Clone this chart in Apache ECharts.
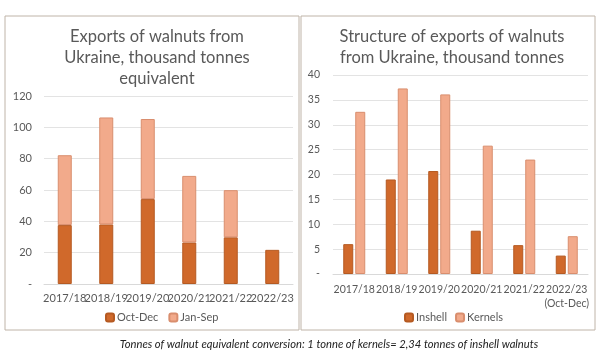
<!DOCTYPE html>
<html><head><meta charset="utf-8">
<script src="https://cdn.jsdelivr.net/npm/echarts@6/dist/echarts.min.js"></script>
<style>html,body{margin:0;padding:0;background:#fff}#c{width:600px;height:360px}</style>
</head><body><div id="c"></div>
<script>
const leftCategories = ['2017/18','2018/19','2019/20','2020/21','2021/22','2022/23'];
const octDec = [37.6, 38.0, 54.2, 26.5, 29.8, 21.8];
const janSep = [44.6, 68.3, 51.1, 42.5, 30.1, null];
const rightCategories = ['2017/18','2018/19','2019/20','2020/21','2021/22','2022/23\n(Oct-Dec)'];
const inshell = [6.0, 19.0, 20.7, 8.7, 5.8, 3.7];
const kernels = [32.6, 37.3, 36.1, 25.8, 23.0, 7.6];
const leftTitle = 'Exports of walnuts from\nUkraine, thousand tonnes\nequivalent';
const rightTitle = 'Structure of exports of walnuts\nfrom Ukraine, thousand tonnes';
const footnote = 'Tonnes of walnut equivalent conversion: 1 tonne of kernels= 2,34 tonnes of inshell walnuts';

const DARK = '#D0692B', DARKB = '#B55A22', LIGHT = '#F2AA8B', LIGHTB = '#D98E6E';
const FONT = 'Lato';
const chart = echarts.init(document.getElementById('c'));
const axisLbl = {color:'#595959', fontFamily:FONT, fontSize:11};
chart.setOption({
  animation:false,
  textStyle:{fontFamily:FONT},
  title:[
    {text:leftTitle, left:152, top:21, textAlign:'center', textStyle:{fontFamily:FONT, fontWeight:'normal', fontSize:16.5, color:'#595959', lineHeight:21}},
    {text:rightTitle, left:447, top:21, textAlign:'center', textStyle:{fontFamily:FONT, fontWeight:'normal', fontSize:16.5, color:'#595959', lineHeight:21}},
    {text:footnote, left:324, top:334, textAlign:'center', textStyle:{fontFamily:FONT, fontWeight:'normal', fontStyle:'italic', fontSize:11.2, color:'#222'}}
  ],
  graphic:[
    {type:'rect', shape:{x:5, y:16, width:294, height:314}, style:{fill:'none', stroke:'#BFB4A8', lineWidth:1}, z:-1},
    {type:'rect', shape:{x:301, y:16, width:294, height:314}, style:{fill:'none', stroke:'#BFB4A8', lineWidth:1}, z:-1}
  ],
  legend:[
    {data:['Oct-Dec','Jan-Sep'], left:105, top:312, padding:0, itemWidth:8, itemHeight:8, itemGap:10, textStyle:{color:'#595959', fontSize:11, fontFamily:FONT, padding:[0,0,0,-2]}},
    {data:['Inshell','Kernels'], left:404, top:312, padding:0, itemWidth:8, itemHeight:8, itemGap:8, textStyle:{color:'#595959', fontSize:11, fontFamily:FONT, padding:[0,0,0,-2]}}
  ],
  grid:[
    {left:44, right:307, top:96, bottom:76},
    {left:333, right:12, top:75, bottom:86}
  ],
  xAxis:[
    {type:'category', gridIndex:0, data:leftCategories, axisTick:{show:false}, axisLine:{lineStyle:{color:'#D9D9D9'}}, axisLabel:Object.assign({}, axisLbl, {fontSize:11, margin:9, interval:0})},
    {type:'category', gridIndex:1, data:rightCategories, axisTick:{show:false}, axisLine:{lineStyle:{color:'#D9D9D9'}}, axisLabel:Object.assign({}, axisLbl, {fontSize:10.5, margin:9, interval:0, lineHeight:14})}
  ],
  yAxis:[
    {type:'value', gridIndex:0, min:0, max:120, interval:20, axisLabel:Object.assign({}, axisLbl, {margin:12, formatter:v=>v===0?'-':v}), splitLine:{lineStyle:{color:'#E3E3E3'}}},
    {type:'value', gridIndex:1, min:0, max:40, interval:5, axisLabel:Object.assign({}, axisLbl, {fontSize:10.5, margin:13, formatter:v=>v===0?'-':v}), splitLine:{lineStyle:{color:'#E3E3E3'}}}
  ],
  series:[
    {name:'Oct-Dec', type:'bar', stack:'a', xAxisIndex:0, yAxisIndex:0, data:octDec, barWidth:14, itemStyle:{color:DARK, borderColor:DARKB, borderWidth:1}},
    {name:'Jan-Sep', type:'bar', stack:'a', xAxisIndex:0, yAxisIndex:0, data:janSep, barWidth:14, itemStyle:{color:LIGHT, borderColor:LIGHTB, borderWidth:1}},
    {name:'Inshell', type:'bar', xAxisIndex:1, yAxisIndex:1, data:inshell, barWidth:10, barGap:'20%', itemStyle:{color:DARK, borderColor:DARKB, borderWidth:1}},
    {name:'Kernels', type:'bar', xAxisIndex:1, yAxisIndex:1, data:kernels, barWidth:10, barGap:'20%', itemStyle:{color:LIGHT, borderColor:LIGHTB, borderWidth:1}}
  ]
});
</script></body></html>
